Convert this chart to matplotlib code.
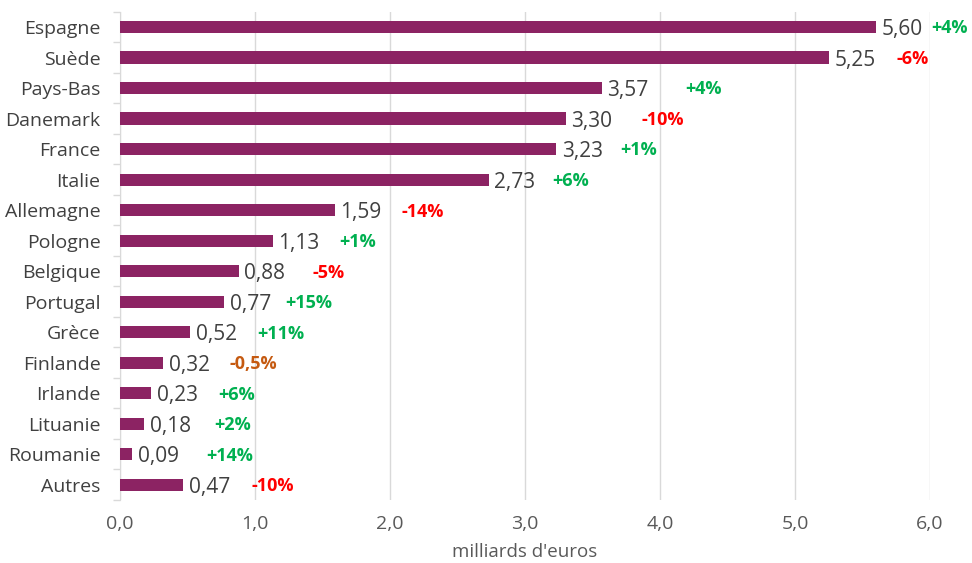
import matplotlib.pyplot as plt

# Données : milliards d'euros et variation annuelle
pays = ["Espagne", "Suède", "Pays-Bas", "Danemark", "France", "Italie",
        "Allemagne", "Pologne", "Belgique", "Portugal", "Grèce", "Finlande",
        "Irlande", "Lituanie", "Roumanie", "Autres"]
valeurs = [5.60, 5.25, 3.57, 3.30, 3.23, 2.73, 1.59, 1.13, 0.88, 0.77,
           0.52, 0.32, 0.23, 0.18, 0.09, 0.47]
variations = ["+4%", "-6%", "+4%", "-10%", "+1%", "+6%", "-14%", "+1%",
              "-5%", "+15%", "+11%", "-0,5%", "+6%", "+2%", "+14%", "-10%"]
# décalage (en points) des étiquettes de variation après la fin de la barre
decalages = [40, 49, 60, 55, 46, 46, 48, 48, 53, 44, 48, 48, 48, 50, 53, 49]

plt.rcParams['font.family'] = ['Open Sans', 'DejaVu Sans']

fig = plt.figure(figsize=(9.72, 5.63), dpi=100)
ax = fig.add_axes([0.1235, 0.112, 0.8333, 0.867])

y = list(range(len(pays)))
ax.barh(y, valeurs, height=0.4, color="#8C2363", zorder=3)


def couleur(v):
    if v.startswith("+"):
        return "#00B050"
    if v == "-0,5%":
        return "#C55A11"
    return "#FF0000"


for yi, v, var, d in zip(y, valeurs, variations, decalages):
    ax.annotate(f"{v:.2f}".replace(".", ","), (v, yi), xytext=(4, -2),
                textcoords="offset points", va="center", ha="left",
                fontsize=15, color="#404040")
    ax.annotate(var, (v, yi), xytext=(d, -1), textcoords="offset points",
                va="center", ha="left", fontsize=13, fontweight="bold",
                color=couleur(var))

ax.set_xlim(0, 6)
ax.set_ylim(len(pays) - 0.5, -0.5)
ax.set_xticks([0, 1, 2, 3, 4, 5, 6])
ax.set_xticklabels([f"{t:.1f}".replace(".", ",") for t in range(7)])
ax.set_yticks(y)
ax.set_yticklabels(pays)
ax.set_yticks([i + 0.5 for i in range(-1, len(pays))], minor=True)

ax.tick_params(axis="y", which="major", length=0, pad=14,
               labelsize=14, labelcolor="#404040")
ax.tick_params(axis="y", which="minor", length=5, color="#D9D9D9", width=1)
ax.tick_params(axis="x", length=0, pad=11, labelsize=14, labelcolor="#595959")

ax.grid(axis="x", color="#D9D9D9", linewidth=1, zorder=0)
for s in ["top", "right", "bottom"]:
    ax.spines[s].set_visible(False)
ax.spines["left"].set_color("#D9D9D9")

ax.set_xlabel("milliards d'euros", fontsize=13.5, color="#595959", labelpad=7)

fig.savefig("out.png", dpi=100)
